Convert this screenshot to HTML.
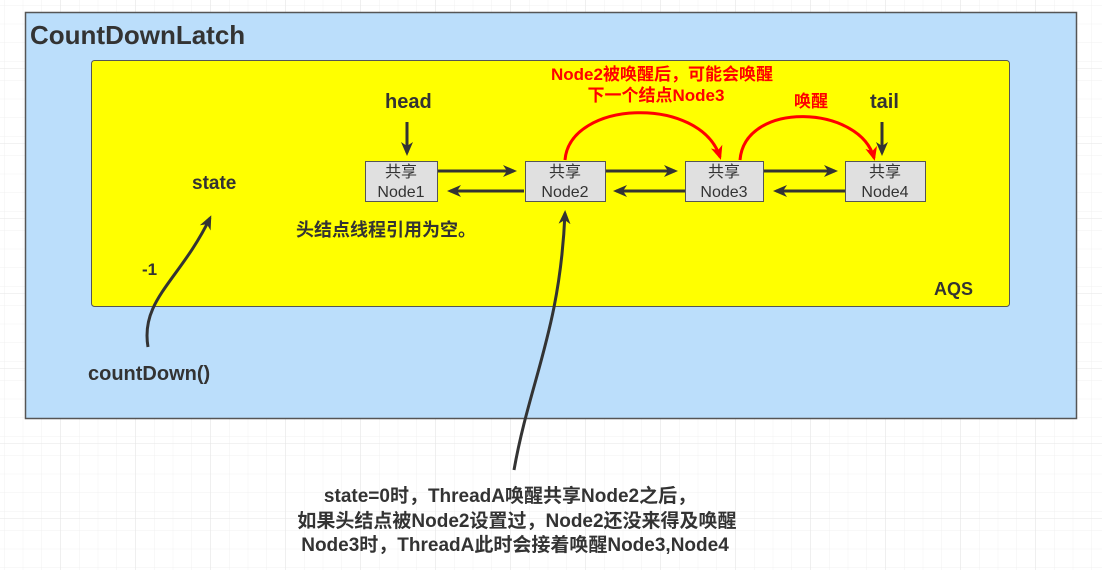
<!DOCTYPE html>
<html><head><meta charset="utf-8"><style>
html,body{margin:0;padding:0;background:#fff}
svg{display:block}
text{font-family:"Liberation Sans","Noto Sans CJK SC",sans-serif}
</style></head><body>
<svg width="1102" height="570" viewBox="0 0 1102 570" xmlns="http://www.w3.org/2000/svg">
<defs>
<pattern id="g" x="4" y="5" width="18.75" height="18.75" patternUnits="userSpaceOnUse">
<path d="M0 0H18.75M0 0V18.75" stroke="#f0f0f0" stroke-width="1" fill="none"/>
</pattern>
<pattern id="G" x="60" y="68" width="75" height="75" patternUnits="userSpaceOnUse">
<path d="M0 0H75M0 0V75" stroke="#e6e6e6" stroke-width="1" fill="none"/>
</pattern>
<marker id="a" markerWidth="14" markerHeight="14" refX="11" refY="7" orient="auto" markerUnits="userSpaceOnUse"><path d="M0 1L14 7L0 13L4 7Z" fill="#333"/></marker>
<marker id="r" markerWidth="14" markerHeight="14" refX="11" refY="7" orient="auto" markerUnits="userSpaceOnUse"><path d="M0 1L14 7L0 13L4 7Z" fill="#f00"/></marker>
</defs>
<rect width="1102" height="570" fill="url(#g)"/>
<rect width="1102" height="570" fill="url(#G)"/>
<rect x="25.5" y="12.5" width="1051" height="406" fill="#bbdefb" stroke="#555" stroke-width="1.5"/>
<text x="30" y="44" font-size="26" font-weight="bold" fill="#333">CountDownLatch</text>
<rect x="91.5" y="60.5" width="918" height="246" rx="3" fill="#ffff00" stroke="#555" stroke-width="1"/>
<text x="934" y="295" font-size="18" font-weight="bold" fill="#333">AQS</text>
<text x="192" y="189" font-size="19" font-weight="bold" fill="#333">state</text>
<text x="142" y="275" font-size="17" font-weight="bold" fill="#333">-1</text>
<text x="88" y="380" font-size="20" font-weight="bold" fill="#333">countDown()</text>
<text x="296" y="236" font-size="18" font-weight="bold" fill="#333">头结点线程引用为空。</text>
<text x="385" y="108" font-size="20" font-weight="bold" fill="#333">head</text>
<text x="870" y="108" font-size="20" font-weight="bold" fill="#333">tail</text>
<text x="662" y="80" font-size="17" font-weight="bold" fill="#f00" text-anchor="middle">Node2被唤醒后，可能会唤醒</text>
<text x="656" y="101" font-size="17" font-weight="bold" fill="#f00" text-anchor="middle">下一个结点Node3</text>
<text x="811" y="107" font-size="17" font-weight="bold" fill="#f00" text-anchor="middle">唤醒</text>
<g fill="#e0e0e0" stroke="#555" stroke-width="1">
<rect x="365.5" y="161.5" width="72" height="40"/>
<rect x="525.5" y="161.5" width="80" height="40"/>
<rect x="685.5" y="161.5" width="78" height="40"/>
<rect x="845.5" y="161.5" width="80" height="40"/>
</g>
<g font-size="16" fill="#333" text-anchor="middle">
<text x="401" y="177">共享</text><text x="401" y="197">Node1</text>
<text x="565" y="177">共享</text><text x="565" y="197">Node2</text>
<text x="724" y="177">共享</text><text x="724" y="197">Node3</text>
<text x="885" y="177">共享</text><text x="885" y="197">Node4</text>
</g>
<g stroke="#333" stroke-width="3" fill="none" marker-end="url(#a)">
<line x1="438" y1="171" x2="514" y2="171"/>
<line x1="524" y1="191" x2="450" y2="191"/>
<line x1="606" y1="171" x2="675" y2="171"/>
<line x1="685" y1="191" x2="616" y2="191"/>
<line x1="764" y1="171" x2="835" y2="171"/>
<line x1="845" y1="191" x2="776" y2="191"/>
<line x1="407" y1="122" x2="407" y2="153"/>
<line x1="882" y1="122" x2="882" y2="153"/>
<path d="M148 347 C140 300 180 280 210 218"/>
<path d="M514 470 C530 380 560 330 565 213"/>
</g>
<g stroke="#f00" stroke-width="3" fill="none" marker-end="url(#r)">
<path d="M565 160 C570 100 700 95 720 157"/>
<path d="M740 160 C745 100 860 105 874 158"/>
</g>
<g font-size="19" font-weight="bold" fill="#333" text-anchor="middle">
<text x="510" y="502">state=0时，ThreadA唤醒共享Node2之后，</text>
<text x="517" y="527">如果头结点被Node2设置过，Node2还没来得及唤醒</text>
<text x="515" y="551">Node3时，ThreadA此时会接着唤醒Node3,Node4</text>
</g>
</svg>
</body></html>
